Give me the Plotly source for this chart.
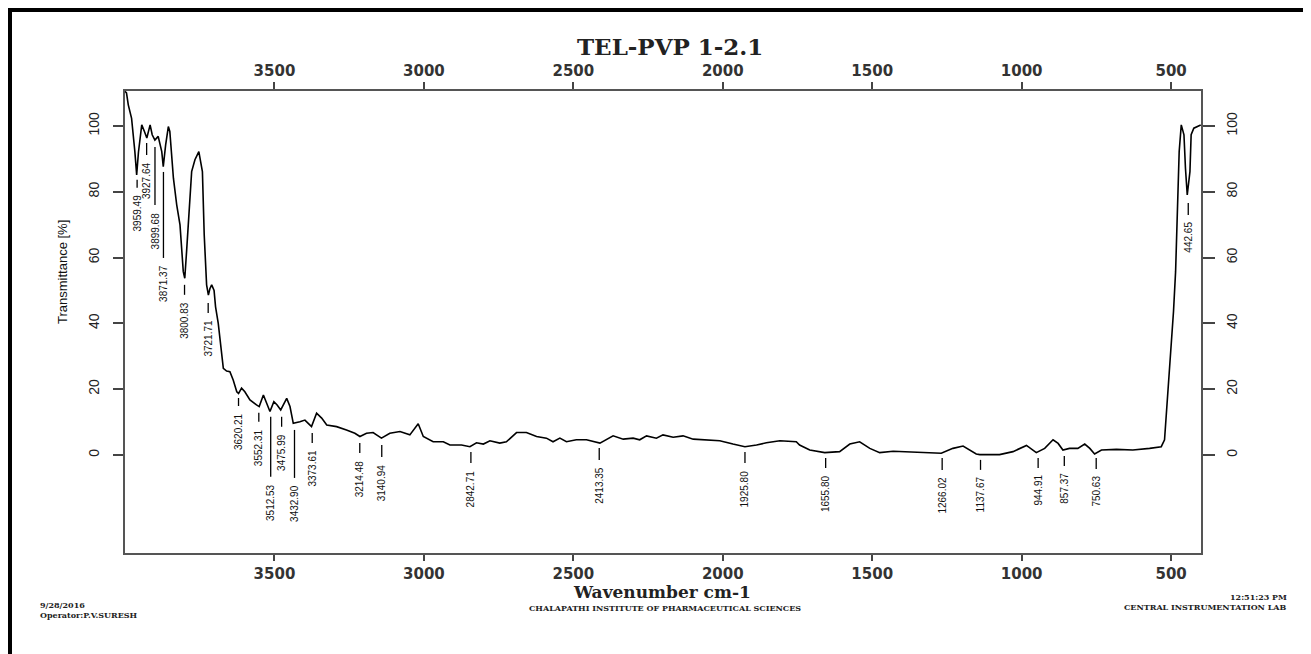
import plotly.graph_objects as go

# ---------------- data ----------------
wavenumber = [4000, 3995, 3989, 3978, 3967, 3961, 3955, 3944, 3935, 3927, 3916, 3909, 3900,
              3889, 3877, 3872, 3864, 3855, 3850, 3838, 3827, 3816, 3805, 3800, 3794, 3786,
              3777, 3766, 3753, 3741, 3735, 3727, 3721, 3716, 3710, 3702, 3697, 3688, 3677,
              3671, 3660, 3649, 3638, 3626, 3620, 3610, 3599, 3582, 3560, 3551, 3537, 3526,
              3515, 3502, 3491, 3479, 3459, 3448, 3437, 3415, 3398, 3387, 3376, 3359, 3342,
              3325, 3292, 3259, 3231, 3214, 3192, 3170, 3142, 3114, 3080, 3047, 3019, 3002,
              2969, 2935, 2913, 2874, 2846, 2824, 2801, 2779, 2746, 2724, 2690, 2657, 2623,
              2590, 2568, 2545, 2523, 2490, 2456, 2411, 2367, 2333, 2300, 2278, 2255, 2222,
              2200, 2166, 2133, 2099, 2055, 2010, 1966, 1926, 1887, 1854, 1809, 1754, 1743,
              1709, 1659, 1609, 1575, 1542, 1508, 1475, 1430, 1375, 1319, 1269, 1230, 1196,
              1152, 1140, 1074, 1029, 984, 951, 923, 895, 878, 862, 840, 812, 789, 772, 756,
              733, 683, 628, 572, 533, 522, 516, 507, 500, 492, 485, 479, 473, 466, 457, 452,
              446, 437, 433, 424, 401]
transmittance = [110.5, 110.0, 106.4, 102.3, 92.2, 85.1, 92.0, 100.3, 98.3, 96.3, 100.3, 97.3, 95.7,
                 96.8, 92.2, 87.6, 94.2, 99.8, 98.3, 84.1, 76.0, 69.9, 55.7, 53.7, 61.8, 72.0,
                 86.1, 89.7, 92.2, 86.1, 66.9, 51.7, 48.6, 50.5, 51.7, 50.0, 45.0, 40.0, 29.9,
                 26.3, 25.5, 25.3, 22.8, 19.2, 18.7, 20.3, 19.2, 16.7, 15.2, 14.7, 18.2, 15.7,
                 13.2, 16.2, 15.2, 13.7, 17.2, 14.7, 9.6, 10.1, 10.6, 9.6, 8.6, 12.7, 11.2,
                 9.1, 8.6, 7.6, 6.6, 5.6, 6.6, 6.8, 5.1, 6.6, 7.1, 6.1, 9.5, 5.6,
                 4.0, 4.0, 3.0, 3.0, 2.5, 3.7, 3.3, 4.3, 3.6, 4.0, 6.8, 6.8, 5.6,
                 5.1, 4.0, 5.1, 4.0, 4.6, 4.6, 3.6, 5.8, 4.8, 5.1, 4.6, 5.8, 5.1,
                 6.1, 5.4, 5.8, 4.8, 4.6, 4.3, 3.3, 2.5, 3.0, 3.7, 4.3, 4.0, 3.0,
                 1.5, 0.7, 1.0, 3.3, 4.0, 2.0, 0.7, 1.1, 0.9, 0.7, 0.5, 2.0, 2.7,
                 0.3, 0.1, 0.1, 1.0, 2.9, 0.7, 2.0, 4.6, 3.5, 1.5, 2.0, 2.0, 3.3, 2.0, 0.3,
                 1.5, 1.7, 1.5, 2.0, 2.5, 4.6, 12.7, 22.8, 31.4, 43.6, 55.7, 71.9, 92.2, 100.3, 97.3, 87.1,
                 79.0, 86.1, 97.3, 99.3, 100.3]

peak_labels = ["3959.49", "3927.64", "3899.68", "3871.37", "3800.83", "3721.71", "3620.21",
               "3552.31", "3512.53", "3475.99", "3432.90", "3373.61", "3214.48", "3140.94",
               "2842.71", "2413.35", "1925.80", "1655.80", "1266.02", "1137.67", "944.91",
               "857.37", "750.63", "442.65"]
peak_wn = [float(s) for s in peak_labels]

x_ticks = [3500, 3000, 2500, 2000, 1500, 1000, 500]
y_ticks = [0, 20, 40, 60, 80, 100]

# ---------------- styling / layout helpers ----------------
# transmittance level where each peak marker starts, and marker length (px)
peak_top = [83.6, 94.8, 93.6, 86.0, 51.7, 46.2, 17.3, 12.8, 11.6, 11.6, 7.6, 6.7, 3.6, 3.0,
            0.9, 2.1, 0.9, -0.9, -0.9, -1.5, -0.9, -0.3, -0.9, 76.6]
peak_len = [8, 12, 58, 86, 10, 10, 8, 9, 60, 10, 48, 10, 10, 12, 11, 12, 11, 10, 12, 10, 10,
            10, 11, 12]
GAP = 5

OFF = 8                      # page body margin added by the browser
W, H = 1311, 654             # page size
L, R, T, B = 125, 1201, 91, 553   # plot frame in page pixels


def px(xp):
    return (xp - L) / (R - L)


def py(yp):
    return (B - yp) / (B - T)


XR = [4000, 400]
YR = [-29.8, 110.6]

fig = go.Figure()
fig.add_trace(go.Scatter(x=wavenumber, y=transmittance, mode="lines",
                         line=dict(color="black", width=1.6), showlegend=False,
                         hoverinfo="skip"))
fig.add_trace(go.Scatter(x=wavenumber[:1], y=transmittance[:1], xaxis="x2", yaxis="y2",
                         mode="markers", marker=dict(opacity=0), showlegend=False,
                         hoverinfo="skip"))

shapes = []
annotations = []
for lab, wn, top, ln in zip(peak_labels, peak_wn, peak_top, peak_len):
    shapes.append(dict(type="line", xref="x", yref="y", ysizemode="pixel", yanchor=top,
                       x0=wn, x1=wn, y0=0, y1=-ln, line=dict(color="black", width=1.3)))
    annotations.append(dict(x=wn, y=top, xref="x", yref="y", text=lab, showarrow=False,
                            textangle=-90, xanchor="center", yanchor="top",
                            yshift=-(ln + GAP),
                            font=dict(family="Liberation Sans", size=10, color="#111")))

# outer black border (top and left)
shapes.append(dict(type="line", xref="paper", yref="paper", x0=px(8), x1=px(1320),
                   y0=py(10), y1=py(10), line=dict(color="black", width=4)))
shapes.append(dict(type="line", xref="paper", yref="paper", x0=px(10), x1=px(10),
                   y0=py(8), y1=py(660), line=dict(color="black", width=4)))

# titles and footer
annotations.append(dict(text="TEL-PVP 1-2.1", xref="paper", yref="paper", x=px(670), y=py(47),
                        showarrow=False, xanchor="center", yanchor="middle",
                        font=dict(family="DejaVu Serif", size=23, color="#222", weight="bold")))
annotations.append(dict(text="Wavenumber cm-1", xref="paper", yref="paper", x=px(662), y=py(592),
                        showarrow=False, xanchor="center", yanchor="middle",
                        font=dict(family="DejaVu Serif", size=17, color="#222", weight="bold")))
annotations.append(dict(text="Transmittance [%]", xref="paper", yref="paper", x=px(62), y=py(272),
                        showarrow=False, xanchor="center", yanchor="middle", textangle=-90,
                        font=dict(family="Liberation Sans", size=13, color="#111")))
foot = dict(family="DejaVu Serif", size=8, color="#222", weight="bold")
annotations.append(dict(text="9/28/2016", xref="paper", yref="paper", x=px(38), y=py(605),
                        showarrow=False, xanchor="left", yanchor="middle", font=foot))
annotations.append(dict(text="Operator:P.V.SURESH", xref="paper", yref="paper", x=px(38), y=py(615),
                        showarrow=False, xanchor="left", yanchor="middle", font=foot))
annotations.append(dict(text="CHALAPATHI INSTITUTE OF PHARMACEUTICAL SCIENCES", xref="paper",
                        yref="paper", x=px(665), y=py(608), showarrow=False,
                        xanchor="center", yanchor="middle", font=foot))
annotations.append(dict(text="12:51:23 PM", xref="paper", yref="paper", x=px(1289), y=py(597),
                        showarrow=False, xanchor="right", yanchor="middle", font=foot))
annotations.append(dict(text="CENTRAL INSTRUMENTATION LAB", xref="paper", yref="paper",
                        x=px(1289), y=py(607), showarrow=False, xanchor="right",
                        yanchor="middle", font=foot))

xfont = dict(family="DejaVu Sans", size=15, color="#333", weight="bold")
yfont = dict(family="Liberation Sans", size=14, color="#222")
axis_common = dict(showgrid=False, zeroline=False, showline=True, linecolor="#555",
                   linewidth=1.5, ticks="outside", tickcolor="#444", tickwidth=1.5)

fig.update_layout(
    width=W - OFF, height=H - OFF,
    margin=dict(l=L - OFF, r=W - R, t=T - OFF, b=H - B, pad=0),
    paper_bgcolor="white", plot_bgcolor="white",
    showlegend=False,
    xaxis=dict(range=XR, tickvals=x_ticks, ticktext=[str(v) for v in x_ticks], ticklen=6,
               tickfont=xfont, **axis_common),
    xaxis2=dict(range=XR, overlaying="x", side="top", tickvals=x_ticks,
                ticktext=[str(v) for v in x_ticks], ticklen=7, tickfont=xfont, **axis_common),
    yaxis=dict(range=YR, tickvals=y_ticks, ticktext=[str(v) for v in y_ticks], ticklen=10,
               tickangle=-90, tickfont=yfont, ticklabelstandoff=9, **axis_common),
    yaxis2=dict(range=YR, overlaying="y", side="right", tickvals=y_ticks,
                ticktext=[str(v) for v in y_ticks], ticklen=12, tickangle=-90,
                tickfont=yfont, ticklabelstandoff=5, **axis_common),
    shapes=shapes,
    annotations=annotations,
)

fig.write_html("out.html")
